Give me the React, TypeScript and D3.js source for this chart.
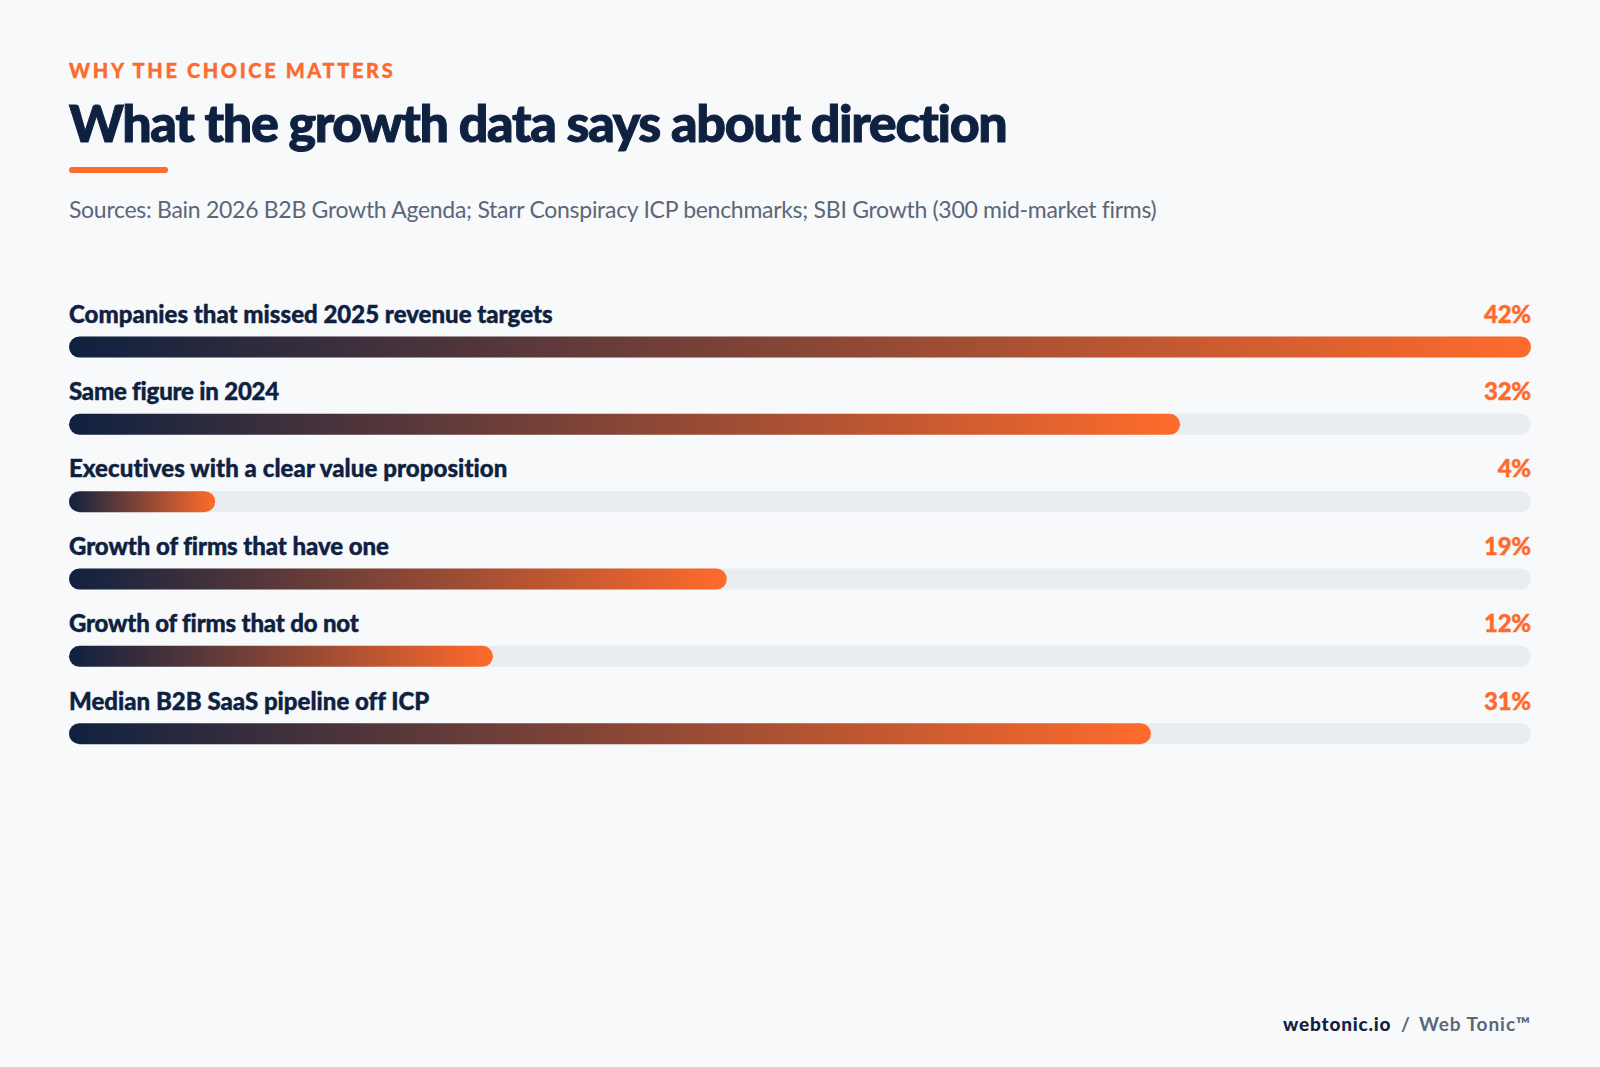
import React from "react";
import * as d3 from "d3";

const categories = [
  "Companies that missed 2025 revenue targets",
  "Same figure in 2024",
  "Executives with a clear value proposition",
  "Growth of firms that have one",
  "Growth of firms that do not",
  "Median B2B SaaS pipeline off ICP",
];
const valueLabels = ["42%", "32%", "4%", "19%", "12%", "31%"];
// bar fill lengths, as a share of the track
const fillShare = [100, 76, 10, 45, 29, 74];
const labelTracking = [0.01, -0.21, 0.07, -0.07, -0.18, 0.01];

const W = 1600, H = 1067;
const left = 69, right = 1531;
const x = d3.scaleLinear().domain([0, 100]).range([0, right - left]);
const y = d3.scalePoint<number>().domain(d3.range(6)).range([347, 733.7]);
const barH = 21;
const font = "Lato, sans-serif";
const navy = "#0f2140";
const orange = "#ff6b2c";
const slate = "#5b6778";

export default function App() {
  return (
    <svg width={W} height={H} viewBox={`0 0 ${W} ${H}`} style={{ position: "fixed", left: 0, top: 0, display: "block" }}>
      <defs>
        {fillShare.map((v, i) => (
          <linearGradient key={i} id={`g${i}`} gradientUnits="userSpaceOnUse" x1={left} x2={left + x(v)} y1={0} y2={0}>
            <stop offset="0" stopColor={navy} />
            <stop offset="1" stopColor={orange} />
          </linearGradient>
        ))}
      </defs>
      <rect width={W} height={H} fill="#f7f9fb" />
      <text x={69} y={78} fontFamily={font} fontWeight={900} fontSize={20} letterSpacing={2.63} fill={orange} stroke={orange} strokeWidth={0.35}>WHY THE CHOICE MATTERS</text>
      <text x={69} y={141.5} fontFamily={font} fontWeight={900} fontSize={52} letterSpacing={-1.35} fill={navy} stroke={navy} strokeWidth={1}>What the growth data says about direction</text>
      <rect x={69} y={167} width={99} height={6} rx={3} fill={orange} />
      <text x={69} y={218} fontFamily={font} fontSize={23} letterSpacing={-0.29} fill={slate}>Sources: Bain 2026 B2B Growth Agenda; Starr Conspiracy ICP benchmarks; SBI Growth (300 mid-market firms)</text>
      {categories.map((c, i) => {
        const cy = y(i)!;
        return (
          <g key={c}>
            <text x={left} y={cy - 24.2} fontFamily={font} fontWeight={900} fontSize={24} letterSpacing={labelTracking[i]} fill={navy} stroke={navy} strokeWidth={0.4}>{c}</text>
            <text x={right} y={cy - 24.2} textAnchor="end" fontFamily={font} fontWeight={900} fontSize={24} letterSpacing={-0.2} fill={orange} stroke={orange} strokeWidth={0.4}>{valueLabels[i]}</text>
            <rect x={left} y={cy - barH / 2} width={right - left} height={barH} rx={barH / 2} fill="#e9ecf0" />
            <rect x={left} y={cy - barH / 2} width={x(fillShare[i])} height={barH} rx={barH / 2} fill={`url(#g${i})`} />
          </g>
        );
      })}
      <text x={1283} y={1031} fontFamily={font} fontWeight={900} fontSize={19} letterSpacing={0.8} fill={navy}>webtonic.io</text>
      <text x={1401} y={1031} fontFamily={font} fontWeight={700} fontSize={19} fill={slate}>/</text>
      <text x={right} y={1031} textAnchor="end" fontFamily={font} fontWeight={700} fontSize={19} letterSpacing={0.95} fill={slate}>Web Tonic™</text>
    </svg>
  );
}
